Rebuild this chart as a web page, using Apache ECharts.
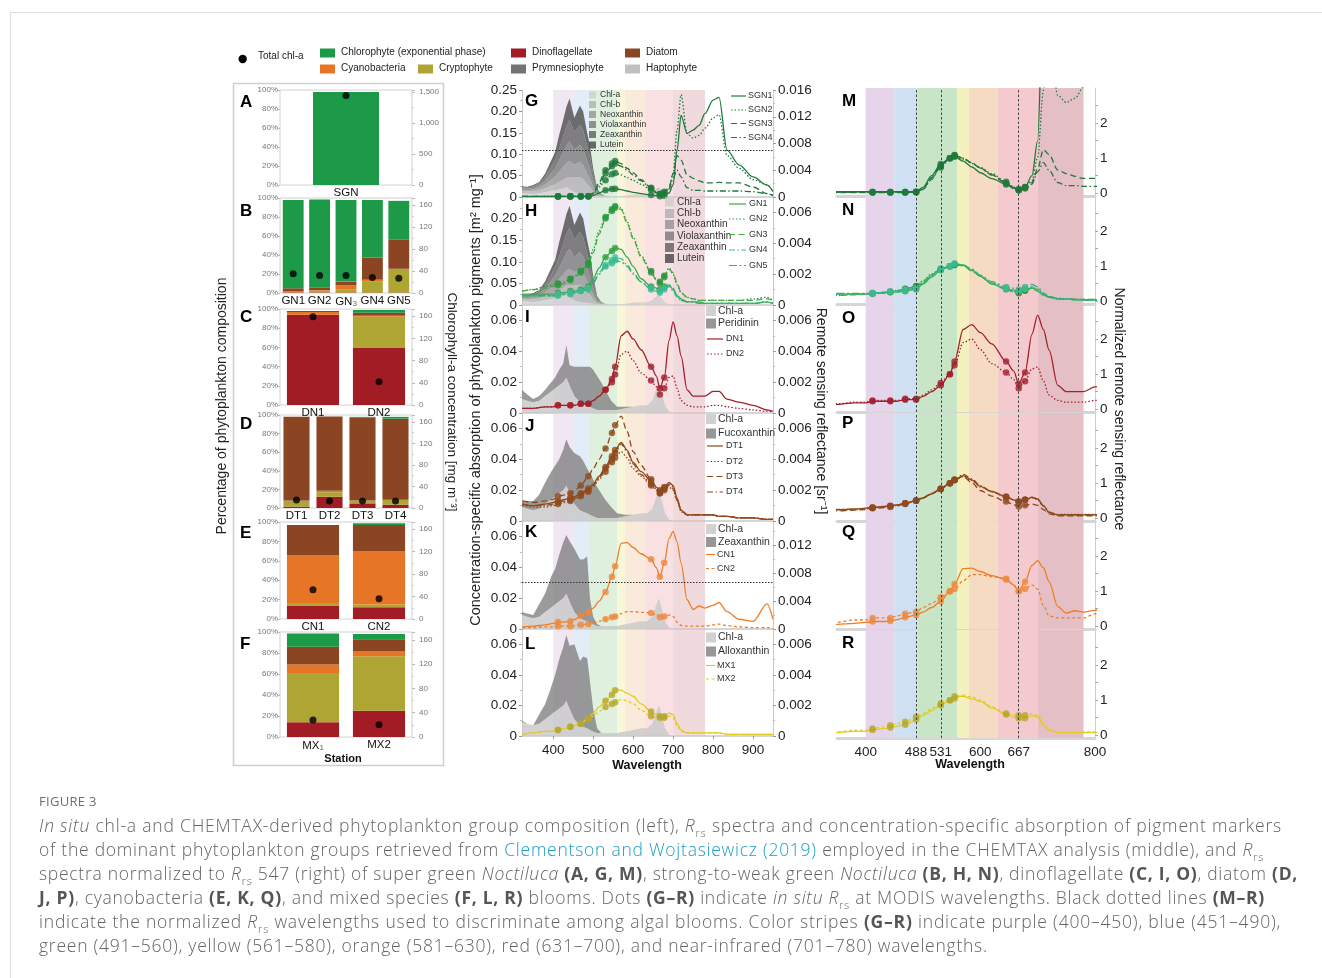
<!DOCTYPE html>
<html><head><meta charset="utf-8">
<script src="https://cdn.jsdelivr.net/npm/echarts@6/dist/echarts.min.js"></script>
<style>
html,body{margin:0;padding:0;background:#fff;}
#wrap{position:relative;width:1322px;height:978px;overflow:hidden;background:#fff;}
#card{position:absolute;left:10px;top:12px;width:1400px;height:1000px;border:1px solid #dedede;}
#c{position:absolute;left:0;top:0;width:1322px;height:978px;}
#cap{position:absolute;left:39px;top:789px;font-family:"Open Sans",sans-serif;color:#646464;}
.fig{font-size:13px;letter-spacing:0.3px;color:#6e6e6e;height:24px;line-height:24px;}
.ln{font-size:17.5px;line-height:24px;height:24px;white-space:nowrap;font-weight:300;}
.b{font-weight:700;color:#555;}
.lk{color:#1b9dc4;}
sub{font-size:11px;line-height:0;}
</style></head>
<body><div id="wrap"><div id="card"></div><div id="c"></div>
<div id="cap">
<div class="fig">FIGURE 3</div>
<div class="ln" data-w="1243"><i>In situ</i> chl-a and CHEMTAX-derived phytoplankton group composition (left), <i>R</i><sub>rs</sub> spectra and concentration-specific absorption of pigment markers</div>
<div class="ln" data-w="1225">of the dominant phytoplankton groups retrieved from <span class="lk">Clementson and Wojtasiewicz (2019)</span> employed in the CHEMTAX analysis (middle), and <i>R</i><sub>rs</sub></div>
<div class="ln" data-w="1259">spectra normalized to <i>R</i><sub>rs</sub> 547 (right) of super green <i>Noctiluca</i> <span class="b">(A, G, M)</span>, strong-to-weak green <i>Noctiluca</i> <span class="b">(B, H, N)</span>, dinoflagellate <span class="b">(C, I, O)</span>, diatom <span class="b">(D,</span></div>
<div class="ln" data-w="1226"><span class="b">J, P)</span>, cyanobacteria <span class="b">(E, K, Q)</span>, and mixed species <span class="b">(F, L, R)</span> blooms. Dots <span class="b">(G–R)</span> indicate <i>in situ R</i><sub>rs</sub> at MODIS wavelengths. Black dotted lines <span class="b">(M–R)</span></div>
<div class="ln" data-w="1242">indicate the normalized <i>R</i><sub>rs</sub> wavelengths used to discriminate among algal blooms. Color stripes <span class="b">(G–R)</span> indicate purple (400–450), blue (451–490),</div>
<div class="ln" data-w="0">green (491–560), yellow (561–580), orange (581–630), red (631–700), and near-infrared (701–780) wavelengths.</div>
</div>
</div>
<script>
// ---------------- DATA ----------------
const STATIONS = ['SGN','GN1','GN2','GN3','GN4','GN5','DN1','DN2','DT1','DT2','DT3','DT4','CN1','CN2','MX1','MX2'];
const PANEL_STATIONS = [['SGN'],['GN1','GN2','GN3','GN4','GN5'],['DN1','DN2'],['DT1','DT2','DT3','DT4'],['CN1','CN2'],['MX1','MX2']];
// percentage composition (%), stacked bottom -> top
const DINOFLAGELLATE = [0, 0.5,0.5,0.5,0.5,0.5, 94,60, 1.5,12,5,3.5, 14,12, 14,25];
const CRYPTOPHYTE    = [0, 0,2,3,12,25, 0,32, 6,5,3,5.5, 2.5,3, 47,52];
const CYANOBACTERIA  = [0, 1.5,0.5,4.5,1.5,0, 3,1, 0,1.5,0,0, 49.5,55, 8,4.5];
const PRYMNESIOPHYTE = [0, 0,0,0,0,0, 0,0, 0.5,0,0,0, 0,0, 0,0];
const HAPTOPHYTE     = [0, 0,0,0,0,0, 0,0, 0,0,0,0, 0,0, 0,0];
const DIATOM         = [0, 3,3,4,23,30.5, 1,3, 90,80,89,87, 31,27, 17,11.5];
const CHLOROPHYTE    = [98, 93,92.5,86,61,41, 0,3, 0,0,1,2, 0,1.7, 12.5,5];
const TOTAL_CHL      = [1440, 35,32,32,28,27, 159,42, 15,13,13,13, 52,36, 28,20];

// pigment concentration-specific absorption [m2 mg-1]
const PIG_WL = [322,335,350,365,380,395,405,415,425,433,441,453,467,475,485,492,500,510,520,530,545,560,580,600,620,635,648,657,665,672,680,690,700];
const CHL_A        = [.009,.008,.007,.008,.011,.014,.016,.018,.020,.023,.018,.011,.007,.006,.005,.004,.003,.002,.002,.002,.002,.002,.003,.004,.005,.005,.008,.015,.020,.013,.005,.001,0];
const CHL_B        = [.005,.005,.006,.007,.009,.012,.014,.018,.020,.022,.028,.035,.040,.036,.026,.020,.010,.003,.001,.001,0,0,0,.001,.001,.001,.002,.003,.002,.001,.001,0,0];
const NEOXANTHIN   = [.003,.003,.004,.006,.009,.014,.018,.024,.030,.035,.038,.030,.035,.033,.024,.019,.011,.003,.001,0,0,0,0,0,0,0,0,0,0,0,0,0,0];
const VIOLAXANTHIN = [.003,.003,.004,.006,.009,.015,.020,.026,.035,.041,.046,.035,.040,.037,.030,.025,.015,.005,.001,0,0,0,0,0,0,0,0,0,0,0,0,0,0];
const ZEAXANTHIN   = [.003,.003,.004,.005,.008,.015,.021,.027,.037,.044,.050,.040,.047,.044,.034,.027,.016,.005,.001,0,0,0,0,0,0,0,0,0,0,0,0,0,0];
const LUTEIN       = [.002,.002,.003,.003,.009,.015,.016,.032,.038,.045,.050,.034,.045,.044,.031,.025,.012,.002,.001,0,0,0,0,0,0,0,0,0,0,0,0,0,0];
const PERIDININ    = [.006,.004,.002,.003,.004,.006,.007,.010,.012,.021,.013,.019,.023,.024,.025,.026,.025,.022,.018,.013,.006,.002,.001,0,0,0,0,0,0,0,0,0,0];
const FUCOXANTHIN  = [.004,.005,.006,.009,.014,.018,.020,.022,.026,.030,.030,.033,.035,.033,.029,.027,.024,.020,.016,.012,.007,.003,.001,0,0,0,0,0,0,0,0,0,0];
const ZEAXANTHIN_CN= [.002,.002,.002,.008,.012,.020,.023,.030,.036,.038,.039,.041,.038,.039,.042,.016,.005,.001,0,0,0,0,0,0,0,0,0,0,0,0,0,0,0];
const ALLOXANTHIN  = [.001,0,0,.006,.010,.018,.024,.032,.038,.043,.041,.049,.042,.046,.046,.032,.015,.003,0,0,0,0,0,0,0,0,0,0,0,0,0,0,0];

// remote sensing reflectance [sr-1]
const RRS_WL = [323,350,380,400,412,430,443,455,469,488,500,515,531,547,555,570,585,600,620,645,658,667,678,690,700,710,720,735,750,765,780,800,815,835,865,900,935,950];
const MODIS_WL = [412,443,469,488,531,547,555,645,667,678];
const SGN1 = [.00005,.00005,.00005,.00005,.00005,.00005,.00005,.00005,.00005,.00006,.0002,.0006,.0010,.0012,.00125,.0011,.0009,.0007,.0005,.0003,.0002,.0001,.0002,.0006,.0018,.0070,.0122,.0095,.0100,.0107,.0125,.0145,.0149,.0070,.0048,.0030,.0018,.0008];
const SGN2 = [.0001,.0001,.0001,.0001,.0001,.0001,.0001,.0001,.0001,.00012,.0004,.0015,.0025,.0034,.0036,.0033,.0029,.0025,.0019,.0011,.0006,.0004,.0006,.0012,.0035,.0100,.0153,.0095,.0088,.0092,.0103,.0118,.0123,.0062,.0043,.0026,.0018,.0008];
const SGN3 = [.0001,.0001,.0001,.0001,.0001,.0001,.0001,.0001,.0001,.00012,.0006,.0022,.0040,.0050,.0054,.0050,.0043,.0036,.0026,.0014,.0007,.0005,.0008,.0015,.0035,.0062,.0055,.0033,.0028,.0024,.0021,.0021,.0022,.0021,.0021,.0015,.0005,.0002];
const SGN4 = [.0001,.0001,.0001,.0001,.0001,.0001,.0001,.0001,.0001,.00012,.0005,.0018,.0035,.0046,.0050,.0046,.0040,.0033,.0024,.0013,.0006,.0004,.0006,.0012,.0028,.0040,.0030,.0014,.0010,.0010,.0009,.0009,.0009,.0009,.0009,.0008,.0005,.0003];
const GN1 = [.0007,.0007,.0007,.0007,.0008,.0008,.0009,.0009,.0010,.0012,.0017,.0024,.0031,.0035,.0037,.0036,.0031,.0025,.0017,.0012,.0011,.0010,.0012,.0013,.0010,.0006,.0004,.0002,.0002,.0002,.0001,.0001,.0001,.0001,.0001,.0001,.0002,.0001];
const GN2 = [.0009,.0010,.0012,.0013,.0014,.0015,.0017,.0019,.0022,.0027,.0036,.0048,.0057,.0062,.0064,.0063,.0054,.0044,.0032,.0022,.0017,.0015,.0019,.0024,.0020,.0013,.0008,.0005,.0004,.0003,.0003,.0003,.0003,.0003,.0003,.0004,.0005,.0003];
const GN3 = [.0009,.0010,.0011,.0012,.0013,.0014,.0016,.0018,.0021,.0026,.0034,.0046,.0056,.0061,.0063,.0062,.0053,.0043,.0031,.0021,.0016,.0014,.0018,.0023,.0021,.0014,.0008,.0005,.0004,.0003,.0003,.0003,.0003,.0003,.0003,.0003,.0004,.0003];
const GN4 = [.0006,.0006,.0006,.0006,.0007,.0007,.0008,.0008,.0009,.0011,.0015,.0021,.0026,.0029,.0031,.0030,.0026,.0021,.0015,.0010,.0009,.0008,.0010,.0012,.0009,.0005,.0003,.0002,.0002,.0001,.0001,.0001,.0001,.0001,.0001,.0001,.0002,.0001];
const GN5 = [.0006,.0006,.0006,.0006,.0006,.0007,.0007,.0008,.0009,.0010,.0014,.0020,.0025,.0027,.0029,.0028,.0025,.0020,.0015,.0011,.0010,.0009,.0011,.0013,.0011,.0006,.0003,.0002,.0002,.0001,.0001,.0001,.0001,.0001,.0001,.0001,.0002,.0001];
const DN1 = [.0003,.0003,.0004,.0004,.0005,.0005,.0005,.0005,.0006,.0006,.0008,.0011,.0015,.0022,.0030,.0050,.0053,.0048,.0041,.0030,.0024,.0016,.0023,.0047,.0059,.0050,.0037,.0015,.0011,.0011,.0011,.0014,.0014,.0009,.0007,.0005,.0002,.0001];
const DN2 = [.0003,.0003,.0004,.0004,.0005,.0005,.0005,.0005,.0006,.0006,.0008,.0011,.0015,.0020,.0025,.0038,.0040,.0034,.0026,.0021,.0017,.0012,.0016,.0023,.0024,.0016,.0008,.0005,.0004,.0004,.0004,.0005,.0005,.0004,.0003,.0002,.0001,.0001];
const DT1 = [.0011,.0010,.0011,.0012,.0013,.0014,.0015,.0016,.0018,.0021,.0024,.0029,.0035,.0042,.0046,.0051,.0046,.0038,.0032,.0026,.0022,.0020,.0022,.0025,.0023,.0015,.0007,.0004,.0004,.0004,.0004,.0004,.0003,.0003,.0002,.0002,.0001,.0001];
const DT2 = [.0010,.0009,.0009,.0010,.0011,.0012,.0013,.0014,.0016,.0019,.0022,.0027,.0032,.0038,.0041,.0045,.0041,.0034,.0029,.0023,.0020,.0018,.0020,.0022,.0020,.0013,.0006,.0004,.0004,.0004,.0004,.0004,.0003,.0003,.0002,.0002,.0001,.0001];
const DT3 = [.0013,.0012,.0013,.0014,.0016,.0017,.0018,.0020,.0023,.0029,.0034,.0040,.0047,.0057,.0062,.0068,.0058,.0045,.0036,.0027,.0022,.0019,.0021,.0023,.0021,.0014,.0007,.0004,.0004,.0004,.0004,.0004,.0003,.0003,.0002,.0002,.0001,.0001];
const DT4 = [.0011,.0010,.0010,.0011,.0012,.0013,.0014,.0015,.0017,.0020,.0023,.0028,.0034,.0040,.0044,.0050,.0045,.0037,.0030,.0024,.0021,.0018,.0021,.0024,.0022,.0014,.0007,.0004,.0004,.0004,.0004,.0004,.0003,.0003,.0002,.0002,.0001,.0001];
const CN1 = [.0003,.0004,.0006,.0008,.0010,.0010,.0011,.0014,.0019,.0024,.0030,.0040,.0053,.0075,.0090,.0123,.0124,.0117,.0108,.0100,.0088,.0075,.0095,.0130,.0140,.0125,.0095,.0042,.0028,.0033,.0030,.0034,.0038,.0025,.0014,.0011,.0036,.0014];
const CN2 = [.0002,.0002,.0003,.0003,.0004,.0004,.0004,.0005,.0006,.0007,.0009,.0011,.0014,.0017,.0018,.0022,.0025,.0025,.0024,.0023,.0020,.0017,.0018,.0020,.0018,.0010,.0005,.0004,.0004,.0004,.0004,.0006,.0007,.0005,.0003,.0002,.0002,.0001];
const MX1 = [.0001,.0002,.0003,.0003,.0004,.0005,.0006,.0007,.0008,.0012,.0015,.0019,.0023,.0027,.0030,.0030,.0028,.0026,.0021,.0016,.0014,.0013,.0013,.0015,.0014,.0008,.0004,.0002,.0002,.0002,.0002,.0002,.0002,.0001,.0001,.0001,.0001,.0001];
const MX2 = [.0001,.0002,.0003,.0003,.0004,.0005,.0006,.0007,.0008,.0011,.0013,.0016,.0019,.0021,.0022,.0024,.0023,.0021,.0017,.0013,.0012,.0012,.0012,.0013,.0012,.0007,.0003,.0002,.0002,.0002,.0002,.0002,.0002,.0001,.0001,.0001,.0001,.0001];

const MID_X_TICKS = [400,500,600,700,800,900];
const RIGHT_X_TICKS = [400,488,531,600,667,800];
const DISCRIM_WL = [488,531,667];
const BANDS = [[400,450],[450,490],[490,560],[560,580],[580,630],[630,700],[700,780]];

// ---------------- STYLE / LAYOUT ----------------
const FONT = '"Liberation Sans", Arial, sans-serif';
const GROUPS = [
  {name:'Dinoflagellate', vals:DINOFLAGELLATE, color:'#a21c26'},
  {name:'Cryptophyte', vals:CRYPTOPHYTE, color:'#afa533'},
  {name:'Cyanobacteria', vals:CYANOBACTERIA, color:'#e67625'},
  {name:'Prymnesiophyte', vals:PRYMNESIOPHYTE, color:'#737373'},
  {name:'Haptophyte', vals:HAPTOPHYTE, color:'#c0c0c0'},
  {name:'Diatom', vals:DIATOM, color:'#8b4523'},
  {name:'Chlorophyte (exponential phase)', vals:CHLOROPHYTE, color:'#1c9a48'}
];
const BAND_COLORS = ['#e6d5ea','#cfe0f2','#c8e5c8','#f5f1bf','#f6dbc3','#f4cacf','#e5bfc6'];
const SOLID='solid', DOT=[1.5,2], DASH=[6,3.5], DASHDOT=[6,2.5,1.5,2.5], LDASHDOT=[8,2.5,2,2.5];
const MID_LINES = [
  [{n:'SGN1',d:SGN1,c:'#1f7a3b',t:SOLID,dc:'#1f7a3b'},{n:'SGN2',d:SGN2,c:'#1f7a3b',t:DOT,dc:'#1f7a3b'},{n:'SGN3',d:SGN3,c:'#1f7a3b',t:DASH,dc:'#1f7a3b'},{n:'SGN4',d:SGN4,c:'#1f7a3b',t:DASHDOT,dc:'#1f7a3b'}],
  [{n:'GN1',d:GN1,c:'#3aaa48',t:SOLID,dc:'#2f9f3f'},{n:'GN2',d:GN2,c:'#23994a',t:DOT,dc:'#1f8f3c'},{n:'GN3',d:GN3,c:'#47ac3b',t:DASH,dc:'#2c9a3a'},{n:'GN4',d:GN4,c:'#3bbd98',t:DASHDOT,dc:'#44c2a0'},{n:'GN5',d:GN5,c:'#2eb07e',t:LDASHDOT,dc:'#3cb88e'}],
  [{n:'DN1',d:DN1,c:'#a31f2c',t:SOLID,dc:'#a31f2c'},{n:'DN2',d:DN2,c:'#a31f2c',t:DOT,dc:'#a31f2c'}],
  [{n:'DT1',d:DT1,c:'#8e4a1d',t:SOLID,dc:'#8e4a1d'},{n:'DT2',d:DT2,c:'#8e4a1d',t:DOT,dc:'#8e4a1d'},{n:'DT3',d:DT3,c:'#8e4a1d',t:DASH,dc:'#8e4a1d'},{n:'DT4',d:DT4,c:'#8e4a1d',t:DASHDOT,dc:'#8e4a1d'}],
  [{n:'CN1',d:CN1,c:'#f07d26',t:SOLID,dc:'#f0883a'},{n:'CN2',d:CN2,c:'#f07d26',t:[3,2.5],dc:'#f0883a'}],
  [{n:'MX1',d:MX1,c:'#e2cc22',t:SOLID,dc:'#b7a82c'},{n:'MX2',d:MX2,c:'#e2cc22',t:[3,2.5],dc:'#b7a82c'}]
];
const GH_PIGS = [
  {n:'Chl-a',d:CHL_A,c:'#cfcfcf'},{n:'Chl-b',d:CHL_B,c:'#b3b3b3'},{n:'Neoxanthin',d:NEOXANTHIN,c:'#989898'},
  {n:'Violaxanthin',d:VIOLAXANTHIN,c:'#7f7f7f'},{n:'Zeaxanthin',d:ZEAXANTHIN,c:'#676767'},{n:'Lutein',d:LUTEIN,c:'#505050'}
];
const PIG_SETS = [
  GH_PIGS, GH_PIGS,
  [{n:'Chl-a',d:CHL_A,c:'#c9c9c9'},{n:'Peridinin',d:PERIDININ,c:'#858585'}],
  [{n:'Chl-a',d:CHL_A,c:'#c9c9c9'},{n:'Fucoxanthin',d:FUCOXANTHIN,c:'#858585'}],
  [{n:'Chl-a',d:CHL_A,c:'#c9c9c9'},{n:'Zeaxanthin',d:ZEAXANTHIN_CN,c:'#858585'}],
  [{n:'Chl-a',d:CHL_A,c:'#c9c9c9'},{n:'Alloxanthin',d:ALLOXANTHIN,c:'#858585'}]
];

const LEFT_TOP = [90,198,309,415,522,632], LEFT_H = [95,95,96,93,97,105];
const MID_TOP = [90,197,305,413,521,629], MID_H = [107,108,108,108,108,107];
const RIGHT_TOP = [88,196,304,413,521,630];
const PIG_MAX = [0.25,0.25,0.07,0.07,0.07,0.07], PIG_INT = [0.05,0.05,0.02,0.02,0.02,0.02];
const RRS_MAX = [0.016,0.007,0.007,0.007,0.0155,0.007], RRS_INT = [0.004,0.002,0.002,0.002,0.004,0.002];
const HLINE = [0.11,null,null,null,0.031,null];

const grids=[], xAxes=[], yAxes=[], series=[];
const IDX547 = RRS_WL.indexOf(547);
const pair = (xs, ys) => xs.map((x,k)=>[x, ys[k]]);
const dots = (ys) => MODIS_WL.map(w => [w, ys[RRS_WL.indexOf(w)]]);

// ---------- left panels ----------
for (let p=0;p<6;p++){
  grids.push({left:280, width:132, top:LEFT_TOP[p], height:LEFT_H[p], show:true, borderColor:'#d2d2d2', borderWidth:1});
  const names = PANEL_STATIONS[p];
  xAxes.push({type:'category', gridIndex:p, data:names, axisLine:{show:false}, axisTick:{show:false},
    axisLabel:{interval:0, margin:2, color:'#111', fontFamily:FONT,
      formatter: v => v==='GN3' ? '{a|GN}{s|3}' : v==='MX1' ? '{a|MX}{s|1}' : '{a|'+v+'}',
      rich:{a:{fontSize:11.5, color:'#111', fontFamily:FONT}, s:{fontSize:8, color:'#666', fontFamily:FONT, padding:[5,0,0,0]}}}});
  yAxes.push({type:'value', gridIndex:p, position:'left', min:0, max:100, interval:20, splitLine:{show:false},
    axisLine:{show:false}, axisTick:{show:true, length:2, lineStyle:{color:'#bbb'}},
    axisLabel:{formatter:'{value}%', fontSize:8, color:'#777', margin:2, fontFamily:FONT}});
  yAxes.push({type:'value', gridIndex:p, position:'right', min:0, max:p===0?1530:173, interval:p===0?500:40, splitLine:{show:false},
    axisLine:{show:false}, axisTick:{show:true, length:3, lineStyle:{color:'#bbb'}},
    minorTick:{show:true, splitNumber:2, length:2, lineStyle:{color:'#ccc'}},
    axisLabel:{showMaxLabel:false, fontSize:8, color:'#777', margin:7, fontFamily:FONT, formatter: v => v.toLocaleString('en-US')}});
  const idx = names.map(n => STATIONS.indexOf(n));
  GROUPS.forEach(g => {
    const vals = idx.map(k => g.vals[k]);
    if (vals.every(v => v===0)) return;
    series.push({type:'bar', name:g.name, xAxisIndex:p, yAxisIndex:2*p, stack:'L'+p, data:vals,
      barCategoryGap: p===0 ? '50%' : '21%', itemStyle:{color:g.color}, silent:true, z:2});
  });
  series.push({type:'scatter', xAxisIndex:p, yAxisIndex:2*p+1, data: idx.map(k => TOTAL_CHL[k]),
    symbolSize:7, itemStyle:{color:'#000'}, silent:true, z:5});
}

// ---------- middle panels ----------
function bandSeries(xs, lower, upper, color, opacity){
  return (params, api) => {
    const pts = [];
    for (let j=0;j<xs.length;j++) pts.push(api.coord([xs[j], upper[j]]));
    for (let j=xs.length-1;j>=0;j--) pts.push(api.coord([xs[j], lower[j]]));
    return {type:'polygon', shape:{points:pts}, style:{fill:color, opacity:opacity}};
  };
}
for (let i=0;i<6;i++){
  const gi = 6+i, yl = 12+2*i, yr = 13+2*i;
  grids.push({left:522, width:251, top:MID_TOP[i], height:MID_H[i]});
  xAxes.push({type:'value', gridIndex:gi, min:322, max:950, splitLine:{show:false},
    axisLine:{show:true, onZero:false, lineStyle:{color:'#c9c9c9', width:1.5}},
    axisTick:{show:i===5, customValues:MID_X_TICKS, length:3, lineStyle:{color:'#999'}},
    axisLabel:{show:i===5, customValues:MID_X_TICKS, fontSize:13.5, color:'#222', margin:7, fontFamily:FONT}});
  yAxes.push({type:'value', gridIndex:gi, position:'left', min:0, max:PIG_MAX[i], interval:PIG_INT[i], splitLine:{show:false},
    axisLine:{show:true, lineStyle:{color:'#c9c9c9'}}, axisTick:{show:true, length:3, lineStyle:{color:'#999'}},
    minorTick:{show:true, splitNumber:2, length:2, lineStyle:{color:'#bbb'}},
    axisLabel:{showMaxLabel:i===0, fontSize:13.5, color:'#222', margin:5, fontFamily:FONT, formatter: v => v===0 ? '0' : v.toFixed(2)}});
  yAxes.push({type:'value', gridIndex:gi, position:'right', min:0, max:RRS_MAX[i], interval:RRS_INT[i], splitLine:{show:false},
    axisLine:{show:true, lineStyle:{color:'#c9c9c9'}}, axisTick:{show:true, length:3, lineStyle:{color:'#999'}},
    minorTick:{show:true, splitNumber:2, length:2, lineStyle:{color:'#bbb'}},
    axisLabel:{showMaxLabel:i===0, fontSize:13.5, color:'#222', margin:5, fontFamily:FONT, formatter: v => v===0 ? '0' : v.toFixed(3)}});
  const stripe = {type:'line', xAxisIndex:gi, yAxisIndex:yl, data:[[322,0]], symbol:'none', lineStyle:{width:0}, silent:true, z:1,
    markArea:{silent:true, data: BANDS.map((b,k)=>[{xAxis:b[0], itemStyle:{color:BAND_COLORS[k], opacity:0.58}},{xAxis:b[1]}])}};
  if (HLINE[i] !== null) stripe.markLine = {silent:true, symbol:'none', label:{show:false}, animation:false,
    lineStyle:{type:[1.5,1.5], color:'#333', width:1}, data:[{yAxis:HLINE[i]}]};
  series.push(stripe);
  // stacked pigment absorption bands
  let lower = PIG_WL.map(()=>0);
  PIG_SETS[i].forEach(pg => {
    const upper = lower.map((v,j)=> v + pg.d[j]);
    series.push({type:'custom', name:pg.n, xAxisIndex:gi, yAxisIndex:yl, data:[[PIG_WL[0],0]], silent:true, z:2,
      renderItem: bandSeries(PIG_WL, lower, upper, pg.c, 0.82)});
    lower = upper;
  });
  MID_LINES[i].forEach(ln => {
    series.push({type:'line', name:ln.n, xAxisIndex:gi, yAxisIndex:yr, data:pair(RRS_WL, ln.d), symbol:'none',
      smooth:0.3, smoothMonotone:'x', lineStyle:{color:ln.c, width:1.3, type:ln.t}, silent:true, z:3});
    series.push({type:'scatter', xAxisIndex:gi, yAxisIndex:yr, data:dots(ln.d), symbolSize:6.5,
      itemStyle:{color:ln.dc}, silent:true, z:4});
  });
}

// ---------- right panels (normalized to Rrs 547) ----------
for (let i=0;i<6;i++){
  const gi = 12+i, yi = 24+i;
  grids.push({left:837, width:258, top:RIGHT_TOP[i], height:108});
  xAxes.push({type:'value', gridIndex:gi, min:350, max:800, splitLine:{show:false},
    axisLine:{show:true, onZero:false, lineStyle:{color:'#d6d6d6', width:3}},
    axisTick:{show:false},
    axisLabel:{show:i===5, customValues:RIGHT_X_TICKS, fontSize:13.5, color:'#222', margin:7, fontFamily:FONT}});
  yAxes.push({type:'value', gridIndex:gi, position:'right', min:-0.08, max:3.0, splitLine:{show:false},
    axisLine:{show:true, lineStyle:{color:'#cfcfcf'}},
    axisTick:{show:true, customValues:[0,0.5,1,1.5,2,2.5], length:3, lineStyle:{color:'#aaa'}},
    axisLabel:{customValues:[0,1,2], fontSize:13.5, color:'#222', margin:5, fontFamily:FONT}});
  series.push({type:'line', xAxisIndex:gi, yAxisIndex:yi, data:[[350,0]], symbol:'none', lineStyle:{width:0}, silent:true, z:1,
    markArea:{silent:true, data: BANDS.map((b,k)=>[{xAxis:b[0], itemStyle:{color:BAND_COLORS[k], opacity:1}},{xAxis:b[1]}])},
    markLine:{silent:true, symbol:'none', label:{show:false}, animation:false,
      lineStyle:{type:[2.5,2], color:'#444', width:1}, data: DISCRIM_WL.map(w => ({xAxis:w}))}});
  MID_LINES[i].forEach(ln => {
    const nrm = ln.d.map(v => v / ln.d[IDX547]);
    series.push({type:'line', xAxisIndex:gi, yAxisIndex:yi, data:pair(RRS_WL, nrm), symbol:'none',
      smooth:0.3, smoothMonotone:'x', lineStyle:{color:ln.c, width:1.3, type:ln.t}, silent:true, z:3});
    series.push({type:'scatter', xAxisIndex:gi, yAxisIndex:yi, data:dots(nrm), symbolSize:6.5,
      itemStyle:{color:ln.dc}, silent:true, z:4});
  });
}

// ---------- graphic texts / legends ----------
const G = [];
function T(x,y,text,o={}){ G.push({type:'text', x, y, rotation:o.rot||0, z:100, silent:true,
  style:{text, font:o.font||('10px '+FONT), fill:o.fill||'#222', textAlign:o.align||'left', align:o.align||'left',
    textVerticalAlign:'middle', verticalAlign:'middle'}}); }
function Rc(x,y,w,h,fill,o={}){ G.push({type:'rect', z:o.z||100, silent:true, shape:{x,y,width:w,height:h},
  style:{fill:fill||'none', stroke:o.stroke||null, lineWidth:o.lw||0, opacity:o.op==null?1:o.op}}); }
function Ln(x1,y1,x2,y2,stroke,w,dash){ G.push({type:'line', z:100, silent:true, shape:{x1,y1,x2,y2},
  style:{stroke, lineWidth:w, lineDash: dash==='solid'?null:dash}}); }
function Cc(x,y,r,fill){ G.push({type:'circle', z:100, silent:true, shape:{cx:x,cy:y,r}, style:{fill}}); }

Rc(233.5,83.5,210,682,null,{stroke:'#cfcfcf', lw:1.5});
Cc(242.7,59,4.2,'#000'); T(258,56,'Total chl-a');
const legPos = {'Chlorophyte (exponential phase)':[320,53],'Dinoflagellate':[511,53],'Diatom':[625,53],
  'Cyanobacteria':[320,69],'Cryptophyte':[418,69],'Prymnesiophyte':[511,69],'Haptophyte':[625,69]};
GROUPS.forEach(g => { const p = legPos[g.name]; Rc(p[0], p[1]-4.5, 15, 9, g.color); T(p[0]+21, p[1]-0.5, g.name); });
const LF = 'bold 17px '+FONT;
['A','B','C','D','E','F'].forEach((l,k)=>T(240,[102,211,317,424,533,644][k],l,{font:LF,fill:'#000'}));
['G','H','I','J','K','L'].forEach((l,k)=>T(525,[101,211,317,426,532,644][k],l,{font:LF,fill:'#000'}));
['M','N','O','P','Q','R'].forEach((l,k)=>T(842,[101,210,318,423,532,643][k],l,{font:LF,fill:'#000'}));
T(222,406,'Percentage of phytoplankton composition',{rot:Math.PI/2, align:'center', font:'14px '+FONT, fill:'#222'});
T(452,402,'Chlorophyll-a concentration [mg m\u207B\u00B3]',{rot:-Math.PI/2, align:'center', font:'13.5px '+FONT, fill:'#222'});
T(476,400,'Concentration-specific absorption of phytoplankton pigments [m\u00B2 mg\u207B\u00B9]',{rot:Math.PI/2, align:'center', font:'14.5px '+FONT, fill:'#222'});
T(821,411,'Remote sensing reflectance [sr\u207B\u00B9]',{rot:-Math.PI/2, align:'center', font:'14px '+FONT, fill:'#222'});
T(1119,409,'Normalized remote sensing reflectance',{rot:-Math.PI/2, align:'center', font:'14px '+FONT, fill:'#222'});
T(343,759,'Station',{align:'center', font:'bold 11px '+FONT, fill:'#111'});
T(647,766,'Wavelength',{align:'center', font:'bold 12.5px '+FONT, fill:'#111'});
T(970,765,'Wavelength',{align:'center', font:'bold 12.5px '+FONT, fill:'#111'});
const PIG_LEG = [
  {x:589, tx:600, ys:[95,104.5,114.5,124.5,134.5,145], sw:7, font:8.5},
  {x:665, tx:677, ys:[202,213.5,224.5,236,247.5,258.5], sw:9, font:10},
  {x:706, tx:718, ys:[311,323.5], sw:10, font:10.5},
  {x:706, tx:718, ys:[419,433.5], sw:10, font:10.5},
  {x:706, tx:718, ys:[529,542], sw:10, font:10.5},
  {x:706, tx:718, ys:[637.5,651.5], sw:10, font:10.5}
];
const LINE_LEG = [
  {x1:731, x2:746, tx:748, ys:[96,110,123.5,137.5], font:9},
  {x1:729, x2:746, tx:749, ys:[204,219,234.5,250,265.5], font:9},
  {x1:707, x2:723, tx:726, ys:[339,354], font:9},
  {x1:707, x2:723, tx:726, ys:[446,461.5,476.5,492], font:9},
  {x1:706, x2:715, tx:717, ys:[554.5,568.5], font:9},
  {x1:706, x2:715, tx:717, ys:[665.5,679], font:9}
];
for (let i=0;i<6;i++){
  const pl = PIG_LEG[i];
  PIG_SETS[i].forEach((pg,k)=>{ Rc(pl.x, pl.ys[k]-pl.sw/2, pl.sw, pl.sw, pg.c, {op:0.85}); T(pl.tx, pl.ys[k], pg.n, {font:pl.font+'px '+FONT, fill:'#333'}); });
  const ll = LINE_LEG[i];
  MID_LINES[i].forEach((ln,k)=>{ Ln(ll.x1, ll.ys[k], ll.x2, ll.ys[k], ln.c, 1.2, ln.t); T(ll.tx, ll.ys[k], ln.n, {font:ll.font+'px '+FONT, fill:'#333'}); });
}

const chart = echarts.init(document.getElementById('c'), null, {renderer:'canvas', width:1322, height:978});
chart.setOption({
  animation:false,
  backgroundColor:'transparent',
  textStyle:{fontFamily:FONT},
  grid:grids, xAxis:xAxes, yAxis:yAxes, series:series,
  graphic:{elements:G}
});

// fit caption lines to the reference line lengths (last line keeps the mean spacing)
const capLines = Array.from(document.querySelectorAll('#cap .ln'));
let sum = 0, cnt = 0;
capLines.forEach(el => {
  const target = parseFloat(el.dataset.w);
  if (!target) return;
  el.style.display = 'inline-block';
  const nat = el.getBoundingClientRect().width;
  const ls = (target - nat) / el.textContent.length;
  el.style.letterSpacing = ls.toFixed(3) + 'px';
  el.style.display = 'block';
  sum += ls; cnt++;
});
capLines.forEach(el => { if (!parseFloat(el.dataset.w)) el.style.letterSpacing = (sum/cnt).toFixed(3) + 'px'; });
</script>
</body></html>
